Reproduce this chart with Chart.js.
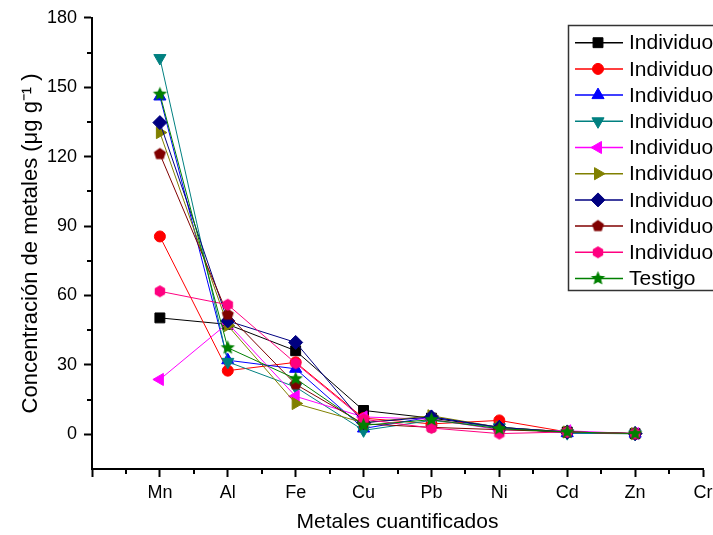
<!DOCTYPE html>
<html>
<head>
<meta charset="utf-8">
<script src="https://cdn.jsdelivr.net/npm/chart.js@4/dist/chart.umd.min.js"></script>
<style>
  html, body { margin: 0; padding: 0; background: #fff; overflow: hidden; }
  canvas { display: block; }
</style>
</head>
<body>
<canvas id="grafica" width="730" height="535"></canvas>
<script>
// Metales en el eje x (posiciones 1..9)
const metales = ['Mn', 'Al', 'Fe', 'Cu', 'Pb', 'Ni', 'Cd', 'Zn', 'Cr'];

// Concentraciones (ug g-1)
const individuo1 = [50.3, 47.5, 36.1, 10.3, 7.0, 3.0, 1.0, 0.3];
const individuo2 = [85.5, 27.5, 31.1, 7.0, 4.5, 6.0, 1.0, 0.3];
const individuo3 = [146.0, 32.0, 28.3, 2.5, 7.5, 3.0, 0.5, 0.3];
const individuo4 = [162.6, 31.3, 20.4, 1.7, 6.0, 3.0, 0.5, 0.2];
const individuo5 = [23.7, 48.0, 16.4, 7.5, 6.5, 2.0, 1.5, 0.3];
const individuo6 = [130.4, 47.0, 13.3, 5.0, 8.0, 3.0, 1.0, 0.3];
const individuo7 = [134.7, 49.0, 39.7, 5.0, 7.5, 3.0, 1.0, 0.3];
const individuo8 = [121.1, 51.7, 21.6, 4.5, 3.0, 2.0, 1.0, 0.3];
const individuo9 = [61.8, 56.0, 30.7, 6.5, 2.7, 0.3, 1.0, 0.3];
const testigo    = [147.0, 37.4, 24.0, 3.9, 6.3, 2.4, 1.0, 0.3];

const nombres = ['Individuo 1', 'Individuo 2', 'Individuo 3', 'Individuo 4', 'Individuo 5',
                 'Individuo 6', 'Individuo 7', 'Individuo 8', 'Individuo 9', 'Testigo'];
const colores = ['#000000', '#ff0000', '#0000ff', '#008080', '#ff00ff',
                 '#808000', '#000080', '#800000', '#ff0080', '#008000'];

const yTicks = [0, 30, 60, 90, 120, 150, 180];

const FUENTE = "'Liberation Sans', Arial, sans-serif";

// Marcadores que Chart.js no trae (pentagono, hexagono, estrella rellena)
const poligono = (color, lados, r, interior) => {
  const c = document.createElement('canvas');
  const s = Math.ceil(2 * r + 2);
  c.width = s; c.height = s;
  const g = c.getContext('2d');
  const n = interior ? lados * 2 : lados;
  g.fillStyle = color;
  g.beginPath();
  for (let i = 0; i < n; i++) {
    const a = -Math.PI / 2 + i * 2 * Math.PI / n;
    const rr = interior && i % 2 ? r * interior : r;
    const px = s / 2 + Math.cos(a) * rr;
    const py = s / 2 + Math.sin(a) * rr;
    i === 0 ? g.moveTo(px, py) : g.lineTo(px, py);
  }
  g.closePath();
  g.fill();
  return c;
};

const marcadores = [
  { pointStyle: 'rect', radius: 7, rotation: 0 },
  { pointStyle: 'circle', radius: 5.5, rotation: 0 },
  { pointStyle: 'triangle', radius: 7, rotation: 0 },
  { pointStyle: 'triangle', radius: 7, rotation: 180 },
  { pointStyle: 'triangle', radius: 7, rotation: 270 },
  { pointStyle: 'triangle', radius: 7, rotation: 90 },
  { pointStyle: 'rectRot', radius: 7, rotation: 0 },
  { pointStyle: poligono(colores[7], 5, 6.3), radius: 6, rotation: 0 },
  { pointStyle: poligono(colores[8], 6, 6), radius: 6, rotation: 0 },
  { pointStyle: poligono(colores[9], 5, 7.5, 0.45), radius: 7, rotation: 0 }
];

const series = [individuo1, individuo2, individuo3, individuo4, individuo5,
                individuo6, individuo7, individuo8, individuo9, testigo];

const datasets = series.map((valores, i) => ({
  label: nombres[i],
  data: valores.map((v, j) => ({ x: j + 1, y: v })),
  borderColor: colores[i],
  backgroundColor: colores[i],
  borderWidth: 1,
  pointStyle: marcadores[i].pointStyle,
  pointRadius: marcadores[i].radius,
  pointRotation: marcadores[i].rotation,
  pointBorderWidth: 1,
  pointBackgroundColor: colores[i],
  pointBorderColor: colores[i],
  tension: 0,
  order: series.length - i
}));

// Leyenda con recuadro dentro del area de la grafica
const leyenda = {
  id: 'leyenda',
  afterDraw(chart) {
    const ctx = chart.ctx;
    ctx.save();
    ctx.strokeStyle = '#333';
    ctx.lineWidth = 1.5;
    ctx.strokeRect(568.5, 25.5, 200, 265);
    ctx.font = '21px ' + FUENTE;
    ctx.textBaseline = 'middle';
    ctx.fillStyle = '#000';
    for (let i = 0; i < nombres.length; i++) {
      const y = 42.7 + i * 26.2;
      ctx.strokeStyle = colores[i];
      ctx.lineWidth = 1.5;
      ctx.beginPath();
      ctx.moveTo(575, y);
      ctx.lineTo(623, y);
      ctx.stroke();
      ctx.fillStyle = colores[i];
      ctx.lineWidth = 1;
      Chart.helpers.drawPoint(ctx, {
        pointStyle: marcadores[i].pointStyle,
        radius: marcadores[i].radius,
        rotation: marcadores[i].rotation,
        borderWidth: 1
      }, 598, y);
      ctx.fillStyle = '#000';
      ctx.fillText(nombres[i], 629, y + 1);
    }
    ctx.restore();
  }
};

// Marcas menores en ambos ejes
const marcasMenores = {
  id: 'marcasMenores',
  afterDraw(chart) {
    const ctx = chart.ctx;
    const sx = chart.scales.x;
    const sy = chart.scales.y;
    ctx.save();
    ctx.strokeStyle = '#000';
    ctx.lineWidth = 2;
    ctx.beginPath();
    for (let v = 0.5; v < 9; v += 1) {
      const px = Math.round(sx.getPixelForValue(v));
      ctx.moveTo(px, sx.top);
      ctx.lineTo(px, sx.top + 5);
    }
    for (let v = 15; v < 180; v += 30) {
      const py = Math.round(sy.getPixelForValue(v));
      ctx.moveTo(sy.right, py);
      ctx.lineTo(sy.right - 5, py);
    }
    ctx.stroke();
    ctx.restore();
  }
};

new Chart(document.getElementById('grafica'), {
  type: 'line',
  data: { datasets },
  options: {
    responsive: false,
    animation: false,
    layout: { padding: { top: 15, right: 27, left: 0, bottom: 0 } },
    plugins: {
      legend: { display: false },
      tooltip: { enabled: false }
    },
    scales: {
      x: {
        type: 'linear',
        min: 0,
        max: 9,
        afterBuildTicks: (scale) => {
          scale.ticks = metales.map((m, i) => ({ value: i })).concat([{ value: 9 }]);
        },
        afterFit: (scale) => { scale.height = 66; },
        grid: { drawOnChartArea: false, tickLength: 8, tickWidth: 2, tickColor: '#000' },
        border: { display: true, color: '#000', width: 2 },
        ticks: {
          color: '#000',
          padding: 5,
          maxRotation: 0,
          autoSkip: false,
          font: { family: FUENTE, size: 18 },
          callback: (v) => (v >= 1 && v <= 9 ? metales[v - 1] : '')
        },
        title: {
          display: true,
          text: 'Metales cuantificados',
          color: '#000',
          font: { family: FUENTE, size: 21 },
          padding: { top: 0, bottom: 0 }
        }
      },
      y: {
        min: -15,
        max: 180,
        afterBuildTicks: (scale) => {
          scale.ticks = yTicks.map((v) => ({ value: v }));
        },
        afterFit: (scale) => { scale.width = 92; },
        grid: { drawOnChartArea: false, tickLength: 8, tickWidth: 2, tickColor: '#000' },
        border: { display: true, color: '#000', width: 2 },
        ticks: {
          color: '#000',
          padding: 7,
          font: { family: FUENTE, size: 18 }
        },
        title: {
          display: true,
          text: 'Concentración de metales (μg g⁻¹ )',
          color: '#000',
          font: { family: FUENTE, size: 22 },
          padding: { top: 18, bottom: 0 }
        }
      }
    }
  },
  plugins: [leyenda, marcasMenores]
});
</script>
</body>
</html>
